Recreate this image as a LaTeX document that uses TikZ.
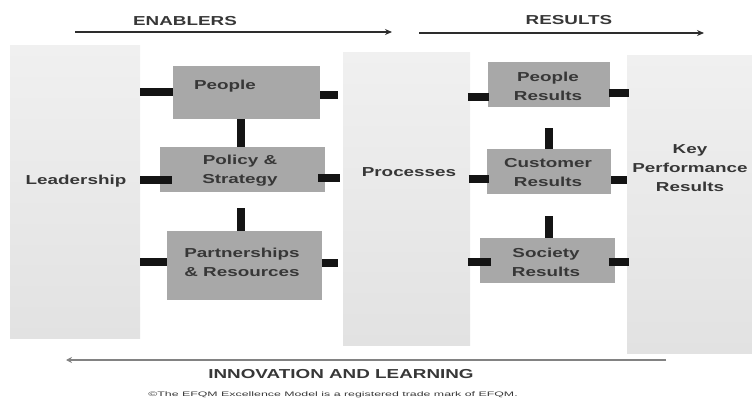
\documentclass[tikz,border=0pt]{standalone}
\usepackage{fontspec}
\setmainfont{Liberation Sans}
\newfontfamily\wideb[FakeStretch=1.45]{Liberation Sans Bold}
\newfontfamily\widefoot[FakeStretch=1.9]{Liberation Sans}
\usetikzlibrary{arrows.meta}
\definecolor{panelTop}{RGB}{240,240,240}
\definecolor{panelBot}{RGB}{226,226,226}
\definecolor{boxgray}{RGB}{168,168,168}
\definecolor{txt}{RGB}{55,55,55}
\definecolor{bargray}{RGB}{20,20,20}
\definecolor{arrowdark}{RGB}{45,45,45}
\definecolor{arrowlight}{RGB}{130,130,130}
\tikzset{
  panel/.style={draw=none, top color=panelTop, bottom color=panelBot,
    minimum width=#1, inner sep=0pt, anchor=north west},
  box/.style={draw=none, fill=boxgray, inner sep=0pt},
  lab/.style={text=txt, font=\wideb\fontsize{13}{19}\selectfont, align=center, inner sep=0pt},
  bar/.style={draw=bargray, line width=8pt, line cap=butt},
  flow/.style={draw=arrowdark, line width=1.8pt, -{Stealth[length=7pt,width=6pt]}},
  backflow/.style={draw=arrowlight, line width=2.6pt, -{Stealth[length=6pt,width=6pt]}},
}
\begin{document}
\begin{tikzpicture}[x=1pt, y=-1pt]
\useasboundingbox (0,0) rectangle (752,406);

% background panels
\node[panel=130pt, minimum height=293pt] (lead) at (10,45) {};
\node[panel=127pt, minimum height=293pt] (proc) at (343,52) {};
\node[panel=125pt, minimum height=298pt] (kpr) at (627,55) {};

% enabler and result boxes
\node[box, minimum width=147pt, minimum height=53pt] (people) at (246.5,92.5) {};
\node[box, minimum width=165pt, minimum height=45pt] (policy) at (242.5,169.5) {};
\node[box, minimum width=155pt, minimum height=69pt] (partner) at (244.5,265.5) {};
\node[box, minimum width=122pt, minimum height=45pt] (presults) at (549,84.5) {};
\node[box, minimum width=124pt, minimum height=45pt] (cresults) at (549,171.5) {};
\node[box, minimum width=135pt, minimum height=45pt] (sresults) at (547.5,260.5) {};

% labels
\node[lab] (tlead) at (76,181) {Leadership};
\node[lab] (tproc) at (409,172) {Processes};
\node[lab] (tkpr) at (690,168) {Key\\Performance\\Results};
\node[lab] (tpeople) at (225,86) {People};
\node[lab] (tpolicy) at (240,171) {Policy \&\\Strategy};
\node[lab] (tpartner) at (242,262) {Partnerships\\\& Resources};
\node[lab] (tpres) at (548,86) {People\\Results};
\node[lab] (tcres) at (548,173) {Customer\\Results};
\node[lab] (tsres) at (546,262) {Society\\Results};

% connecting bars, enablers side
\draw[bar] (lead.east |- people.west) -- (people.west);
\draw[bar] ([yshift=-2.5pt]people.east) -- ([xshift=18pt,yshift=-2.5pt]people.east);
\draw[bar] ([xshift=-5.5pt]people.south) -- ([xshift=-5.5pt]people.south |- policy.north);
\draw[bar] ([yshift=-10.5pt]lead.east |- policy.west) -- ([xshift=12pt,yshift=-10.5pt]policy.west);
\draw[bar] ([xshift=-7pt,yshift=-8.5pt]policy.east) -- ([xshift=15pt,yshift=-8.5pt]policy.east);
\draw[bar] ([xshift=-1.5pt,yshift=-16pt]policy.south) -- ([xshift=-1.5pt]policy.south |- partner.north);
\draw[bar] ([yshift=3.5pt]lead.east |- partner.west) -- ([yshift=3.5pt]partner.west);
\draw[bar] ([yshift=2.5pt]partner.east) -- ([xshift=16pt,yshift=2.5pt]partner.east);

% connecting bars, results side
\draw[bar] ([xshift=-20pt,yshift=-12.5pt]presults.west) -- ([xshift=1pt,yshift=-12.5pt]presults.west);
\draw[bar] ([xshift=-1pt,yshift=-8.5pt]presults.east) -- ([xshift=19pt,yshift=-8.5pt]presults.east);
\draw[bar] ([yshift=-21pt]presults.south) -- (presults.south |- cresults.north);
\draw[bar] ([xshift=-18pt,yshift=-7.5pt]cresults.west) -- ([xshift=2pt,yshift=-7.5pt]cresults.west);
\draw[bar] ([yshift=-8.5pt]cresults.east) -- ([yshift=-8.5pt]kpr.west |- cresults.east);
\draw[bar] ([yshift=-22pt]cresults.south) -- (cresults.south |- sresults.north);
\draw[bar] ([xshift=-12pt,yshift=-1.5pt]sresults.west) -- ([xshift=11pt,yshift=-1.5pt]sresults.west);
\draw[bar] ([xshift=-6pt,yshift=-1.5pt]sresults.east) -- ([xshift=14pt,yshift=-1.5pt]sresults.east);

% headings and flow arrows
\node[lab] (enablers) at (185,21) {ENABLERS};
\node[lab] (results) at (569,20) {RESULTS};
\coordinate (e1) at (75,32);
\coordinate (e2) at (392,32);
\coordinate (r1) at (419,33);
\coordinate (r2) at (704,33);
\draw[flow] (e1) -- (e2);
\draw[flow] (r1) -- (r2);
\coordinate (l1) at (666,360);
\coordinate (l2) at (66,360);
\draw[backflow] (l1) -- (l2);
\node[lab] (innov) at (341,374.5) {INNOVATION AND LEARNING};
\node[text=txt, inner sep=0pt, font=\widefoot\fontsize{6.5}{8}\selectfont] (foot) at (333,395)
  {\textcopyright The EFQM Excellence Model is a registered trade mark of EFQM.};
\end{tikzpicture}
\end{document}
